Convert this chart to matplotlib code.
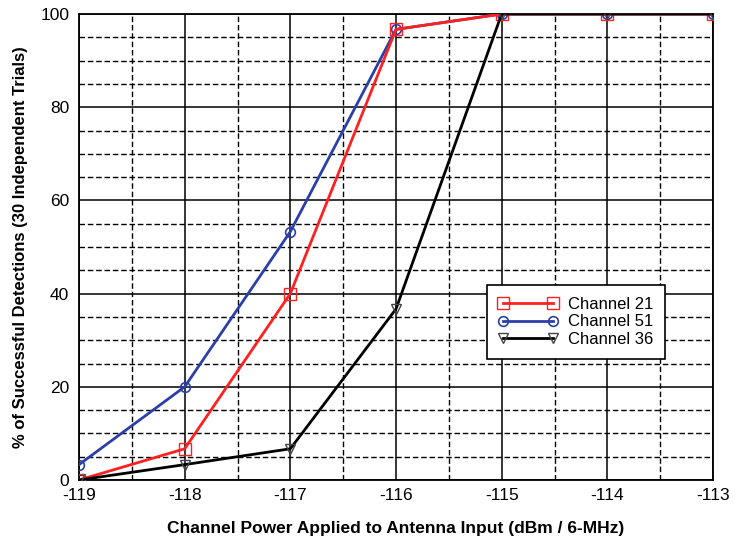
import matplotlib
matplotlib.use("Agg")
import matplotlib.pyplot as plt
import numpy as np

plt.rcParams['font.family'] = ['Liberation Sans', 'DejaVu Sans']
plt.rcParams['axes.unicode_minus'] = False

# channel power (dBm / 6-MHz)
power = [-119, -118, -117, -116, -115, -114, -113]

# % of successful detections per channel
ch21 = [0, 6.7, 40, 96.7, 100, 100, 100]
ch51 = [3.3, 20, 53.3, 96.7, 100, 100, 100]
ch36 = [0, 3.3, 6.7, 36.7, 100, 100, 100]

fig = plt.figure(figsize=(7.43, 5.41), dpi=100)
ax = fig.add_axes([79/743, 1 - 480/541, 634/743, 466/541])

ax.plot(power, ch21, color='#ff2020', lw=2.0, marker='s', ms=8, mfc='none',
        mec='#ff2020', mew=1.0, label='Channel 21', zorder=4)
ax.plot(power, ch51, color='#2b3fa8', lw=2.0, marker='o', ms=7, mfc='none',
        mec='#2b3fa8', mew=1.2, label='Channel 51', zorder=3)
ax.plot(power, ch36, color='black', lw=2.0, marker='v', ms=7, mfc='none',
        mec='#444444', mew=1.0, label='Channel 36', zorder=5)

ax.set_xlim(-119, -113)
ax.set_ylim(0, 100)
ax.set_xticks(np.arange(-119, -112, 1))
ax.set_yticks(np.arange(0, 101, 20))
ax.set_xticks(np.arange(-119, -113, 0.5), minor=True)
ax.set_yticks(np.arange(0, 101, 5), minor=True)
ax.grid(which='major', color='black', lw=1.1, ls='-')
ax.grid(which='minor', color='black', lw=1.0, ls=(0, (4, 2)))
ax.tick_params(which='both', length=0, labelsize=12.5)
ax.tick_params(axis='x', pad=6)
ax.tick_params(axis='y', pad=7)
ax.set_axisbelow(True)
for s in ax.spines.values():
    s.set_linewidth(1.3)

ax.set_xlabel('Channel Power Applied to Antenna Input (dBm / 6-MHz)',
              fontsize=12.5, fontweight='bold', labelpad=13)
ax.set_ylabel('% of Successful Detections (30 Independent Trials)',
              fontsize=12, fontweight='bold', labelpad=9)

leg = ax.legend(loc='upper left', bbox_to_anchor=(0.643, 0.418),
                numpoints=2, fontsize=12, fancybox=False,
                framealpha=1, edgecolor='black', borderpad=0.7,
                handlelength=3.6, handletextpad=0.6, labelspacing=0.15,
                borderaxespad=0)
leg.get_frame().set_linewidth(1.2)

fig.savefig('out.png', dpi=100)
